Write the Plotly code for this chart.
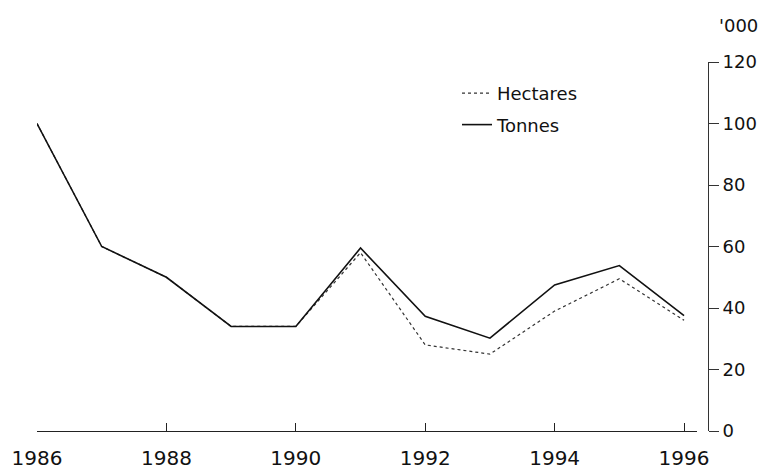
import plotly.graph_objects as go

years = [1986, 1987, 1988, 1989, 1990, 1991, 1992, 1993, 1994, 1995, 1996]
hectares = [100, 60, 50, 34, 34, 58, 28, 25, 39, 49.5, 36]
tonnes = [100, 60, 50, 34, 34, 59.5, 37.3, 30.2, 47.5, 53.8, 37.5]
x_ticks = [1986, 1988, 1990, 1992, 1994, 1996]
y_ticks = [0, 20, 40, 60, 80, 100, 120]
unit_label = "'000"

# page is rendered with an 8px body margin; coordinates below are figure px
W, H = 771, 472
L, T = 29, 54
B = H - 423
R = 60
pw = W - L - R
ph = H - T - B
plot_right = 689
axis_x = 700

fig = go.Figure()
fig.add_trace(go.Scatter(x=years, y=hectares, mode="lines", name="Hectares",
                         legendgroup="h",
                         line=dict(color="#333333", width=1.2, dash="dot")))
fig.add_trace(go.Scatter(x=years, y=tonnes, mode="lines", name="Tonnes",
                         legendgroup="t",
                         line=dict(color="#111111", width=1.6)))

font = dict(family="DejaVu Sans", size=18, color="#111111")

fig.update_layout(
    width=W, height=H,
    margin=dict(l=L, r=R, t=T, b=B, autoexpand=False),
    paper_bgcolor="white", plot_bgcolor="white",
    font=font,
    showlegend=True,
    legend=dict(x=(449 - L) / pw, y=1 - (67 - T) / ph, xanchor="left", yanchor="top",
                bgcolor="rgba(0,0,0,0)", font=dict(family="DejaVu Sans", size=18, color="#111111"),
                traceorder="grouped", tracegroupgap=5),
    xaxis=dict(range=[1986, 1996.2], domain=[0, (plot_right - L) / pw],
               tickvals=x_ticks, ticktext=[str(v) for v in x_ticks],
               showgrid=False, zeroline=False, showline=True, automargin=False,
               linecolor="#222222", linewidth=1.2,
               ticks="inside", ticklen=8, tickcolor="#222222",
               ticklabelstandoff=9,
               tickfont=dict(family="DejaVu Sans", size=20, color="#111111")),
    yaxis=dict(range=[0, 120], side="right", anchor="free",
               position=(axis_x - L) / pw, automargin=False,
               tickvals=y_ticks, showgrid=False, zeroline=False,
               showline=True, linecolor="#333333", linewidth=1,
               ticks="outside", ticklen=10, tickcolor="#333333",
               tickfont=dict(family="DejaVu Sans", size=18, color="#111111")),
    annotations=[dict(text=unit_label, xref="paper", yref="paper",
                      x=(730 - L) / pw, y=1 + (T - 18) / ph,
                      xanchor="center", yanchor="middle", showarrow=False,
                      font=dict(family="DejaVu Sans", size=18, color="#111111"))],
)

fig.write_html("out.html")
